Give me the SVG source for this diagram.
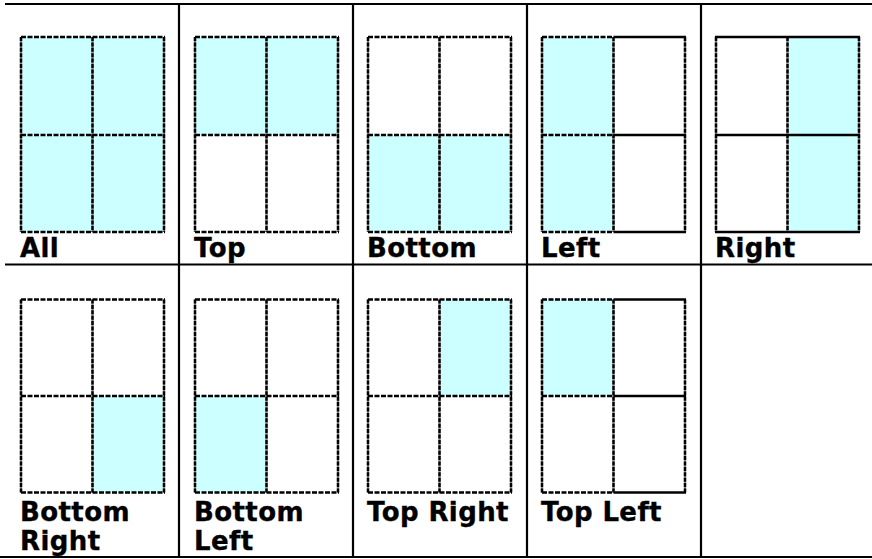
<svg xmlns="http://www.w3.org/2000/svg" width="872" height="559" viewBox="0 0 872 559">
<style>
.bg{fill:#ffffff}
.sel{fill:#ccffff;stroke:none}
.grid{stroke:#000;stroke-width:2.2;fill:none}
.vu{stroke:#8a8a8a;stroke-width:2.4}
.vd{stroke:#000;stroke-width:2.4;stroke-dasharray:4 1.4}
.hd{stroke:#000;stroke-width:2.4;stroke-dasharray:5 1.5}
.hs{stroke:#000;stroke-width:2.4}
.lbl{font-family:"DejaVu Sans",Verdana,sans-serif;font-weight:bold;font-size:26px;letter-spacing:0.4px;fill:#000;stroke:#000;stroke-width:0.35}
</style>
<rect class="bg" x="0" y="0" width="872" height="559"/>

<g id="grid" class="grid">
<line x1="5" y1="4" x2="872" y2="4"/>
<line x1="5" y1="264.5" x2="872" y2="264.5"/>
<line x1="0" y1="557" x2="872" y2="557"/>
<line x1="179" y1="3" x2="179" y2="558"/>
<line x1="353" y1="3" x2="353" y2="558"/>
<line x1="527" y1="3" x2="527" y2="558"/>
<line x1="701" y1="3" x2="701" y2="558"/>
</g>

<g id="cell-all">
<rect class="sel" x="21" y="37" width="143" height="195"/>
<line class="vu" x1="21" y1="37" x2="21" y2="232"/><line class="vd" x1="21" y1="37" x2="21" y2="232"/>
<line class="vu" x1="92.5" y1="37" x2="92.5" y2="232"/><line class="vd" x1="92.5" y1="37" x2="92.5" y2="232"/>
<line class="vu" x1="164" y1="37" x2="164" y2="232"/><line class="vd" x1="164" y1="37" x2="164" y2="232"/>
<line class="hd" x1="21" y1="37" x2="165" y2="37"/>
<line class="hd" x1="21" y1="135" x2="165" y2="135"/>
<line class="hd" x1="21" y1="232" x2="165" y2="232"/>
<text class="lbl" x="20" y="257">All</text>
</g>

<g id="cell-top">
<rect class="sel" x="195" y="37" width="143" height="98"/>
<line class="vu" x1="195" y1="37" x2="195" y2="232"/><line class="vd" x1="195" y1="37" x2="195" y2="232"/>
<line class="vu" x1="266.5" y1="37" x2="266.5" y2="232"/><line class="vd" x1="266.5" y1="37" x2="266.5" y2="232"/>
<line class="vu" x1="338" y1="37" x2="338" y2="232"/><line class="vd" x1="338" y1="37" x2="338" y2="232"/>
<line class="hd" x1="195" y1="37" x2="339" y2="37"/>
<line class="hd" x1="195" y1="135" x2="339" y2="135"/>
<line class="hd" x1="195" y1="232" x2="339" y2="232"/>
<text class="lbl" x="194" y="257">Top</text>
</g>

<g id="cell-bottom">
<rect class="sel" x="368" y="135" width="143" height="97"/>
<line class="vu" x1="368" y1="37" x2="368" y2="232"/><line class="vd" x1="368" y1="37" x2="368" y2="232"/>
<line class="vu" x1="439.5" y1="37" x2="439.5" y2="232"/><line class="vd" x1="439.5" y1="37" x2="439.5" y2="232"/>
<line class="vu" x1="511" y1="37" x2="511" y2="232"/><line class="vd" x1="511" y1="37" x2="511" y2="232"/>
<line class="hd" x1="368" y1="37" x2="512" y2="37"/>
<line class="hd" x1="368" y1="135" x2="512" y2="135"/>
<line class="hd" x1="368" y1="232" x2="512" y2="232"/>
<text class="lbl" x="367" y="257">Bottom</text>
</g>

<g id="cell-left">
<rect class="sel" x="542" y="37" width="71.5" height="195"/>
<line class="vu" x1="542" y1="37" x2="542" y2="232"/><line class="vd" x1="542" y1="37" x2="542" y2="232"/>
<line class="vu" x1="613.5" y1="37" x2="613.5" y2="232"/><line class="vd" x1="613.5" y1="37" x2="613.5" y2="232"/>
<line class="vu" x1="685" y1="37" x2="685" y2="232"/><line class="vd" x1="685" y1="37" x2="685" y2="232"/>
<line class="hd" x1="542" y1="37" x2="613.5" y2="37"/>
<line class="hd" x1="542" y1="135" x2="613.5" y2="135"/>
<line class="hd" x1="542" y1="232" x2="613.5" y2="232"/>
<line class="hs" x1="613.5" y1="37" x2="686" y2="37"/>
<line class="hs" x1="613.5" y1="135" x2="686" y2="135"/>
<line class="hs" x1="613.5" y1="232" x2="686" y2="232"/>
<text class="lbl" x="541" y="257">Left</text>
</g>

<g id="cell-right">
<rect class="sel" x="787.5" y="37" width="71.5" height="195"/>
<line class="vu" x1="716" y1="37" x2="716" y2="232"/><line class="vd" x1="716" y1="37" x2="716" y2="232"/>
<line class="vu" x1="787.5" y1="37" x2="787.5" y2="232"/><line class="vd" x1="787.5" y1="37" x2="787.5" y2="232"/>
<line class="vu" x1="859" y1="37" x2="859" y2="232"/><line class="vd" x1="859" y1="37" x2="859" y2="232"/>
<line class="hs" x1="715" y1="37" x2="860" y2="37"/>
<line class="hs" x1="715" y1="135" x2="860" y2="135"/>
<line class="hs" x1="715" y1="232" x2="860" y2="232"/>
<text class="lbl" x="715" y="257">Right</text>
</g>

<g id="cell-bottom-right">
<rect class="sel" x="92.5" y="396" width="71.5" height="96.5"/>
<line class="vu" x1="21" y1="299.5" x2="21" y2="492.5"/><line class="vd" x1="21" y1="299.5" x2="21" y2="492.5"/>
<line class="vu" x1="92.5" y1="299.5" x2="92.5" y2="492.5"/><line class="vd" x1="92.5" y1="299.5" x2="92.5" y2="492.5"/>
<line class="vu" x1="164" y1="299.5" x2="164" y2="492.5"/><line class="vd" x1="164" y1="299.5" x2="164" y2="492.5"/>
<line class="hd" x1="21" y1="299.5" x2="165" y2="299.5"/>
<line class="hd" x1="21" y1="396" x2="165" y2="396"/>
<line class="hd" x1="21" y1="492.5" x2="165" y2="492.5"/>
<text class="lbl" x="20" y="520.5">Bottom</text>
<text class="lbl" x="20" y="550">Right</text>
</g>

<g id="cell-bottom-left">
<rect class="sel" x="195" y="396" width="71.5" height="96.5"/>
<line class="vu" x1="195" y1="299.5" x2="195" y2="492.5"/><line class="vd" x1="195" y1="299.5" x2="195" y2="492.5"/>
<line class="vu" x1="266.5" y1="299.5" x2="266.5" y2="492.5"/><line class="vd" x1="266.5" y1="299.5" x2="266.5" y2="492.5"/>
<line class="vu" x1="338" y1="299.5" x2="338" y2="492.5"/><line class="vd" x1="338" y1="299.5" x2="338" y2="492.5"/>
<line class="hd" x1="195" y1="299.5" x2="339" y2="299.5"/>
<line class="hd" x1="195" y1="396" x2="339" y2="396"/>
<line class="hd" x1="195" y1="492.5" x2="339" y2="492.5"/>
<text class="lbl" x="194" y="520.5">Bottom</text>
<text class="lbl" x="194" y="550">Left</text>
</g>

<g id="cell-top-right">
<rect class="sel" x="439.5" y="299.5" width="71.5" height="96.5"/>
<line class="vu" x1="368" y1="299.5" x2="368" y2="492.5"/><line class="vd" x1="368" y1="299.5" x2="368" y2="492.5"/>
<line class="vu" x1="439.5" y1="299.5" x2="439.5" y2="492.5"/><line class="vd" x1="439.5" y1="299.5" x2="439.5" y2="492.5"/>
<line class="vu" x1="511" y1="299.5" x2="511" y2="492.5"/><line class="vd" x1="511" y1="299.5" x2="511" y2="492.5"/>
<line class="hd" x1="368" y1="299.5" x2="512" y2="299.5"/>
<line class="hd" x1="368" y1="396" x2="512" y2="396"/>
<line class="hd" x1="368" y1="492.5" x2="512" y2="492.5"/>
<text class="lbl" x="367" y="520.5">Top Right</text>
</g>

<g id="cell-top-left">
<rect class="sel" x="542" y="299.5" width="71.5" height="96.5"/>
<line class="vu" x1="542" y1="299.5" x2="542" y2="492.5"/><line class="vd" x1="542" y1="299.5" x2="542" y2="492.5"/>
<line class="vu" x1="613.5" y1="299.5" x2="613.5" y2="492.5"/><line class="vd" x1="613.5" y1="299.5" x2="613.5" y2="492.5"/>
<line class="vu" x1="685" y1="299.5" x2="685" y2="492.5"/><line class="vd" x1="685" y1="299.5" x2="685" y2="492.5"/>
<line class="hd" x1="542" y1="299.5" x2="613.5" y2="299.5"/>
<line class="hd" x1="542" y1="396" x2="613.5" y2="396"/>
<line class="hd" x1="542" y1="492.5" x2="613.5" y2="492.5"/>
<line class="hs" x1="613.5" y1="299.5" x2="686" y2="299.5"/>
<line class="hs" x1="613.5" y1="396" x2="686" y2="396"/>
<line class="hs" x1="613.5" y1="492.5" x2="686" y2="492.5"/>
<text class="lbl" x="541" y="520.5">Top Left</text>
</g>
</svg>
